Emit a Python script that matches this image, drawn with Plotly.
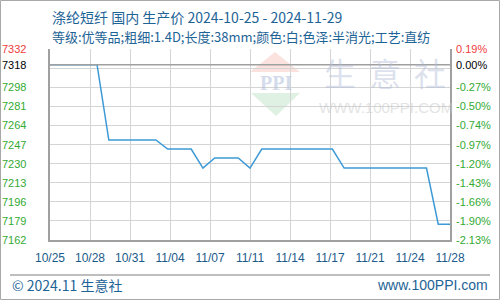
import pandas as pd
import plotly.graph_objects as go

# ---- data ----
dates = [d.strftime("%Y-%m-%d") for d in pd.date_range("2024-10-25", "2024-11-28", freq="D")]
prices = [7318, 7318, 7318, 7318, 7318,
          7251, 7251, 7251, 7251, 7251,
          7243, 7243, 7243,
          7226,
          7235, 7235, 7235,
          7226,
          7243, 7243, 7243, 7243, 7243, 7243, 7243,
          7226, 7226, 7226, 7226, 7226, 7226, 7226, 7226,
          7176, 7176]
base_value = 7318
x_tick_labels = ["10/25", "10/28", "10/31", "11/04", "11/07", "11/11",
                 "11/14", "11/17", "11/21", "11/24", "11/28"]
grid_values = [7162, 7179, 7196, 7213, 7230, 7247, 7264, 7281, 7298, 7315, 7332]
left_tick_values = [7332, 7318, 7298, 7281, 7264, 7247, 7230, 7213, 7196, 7179, 7162]
left_tick_labels = ["7332", "7318", "7298", "7281", "7264", "7247", "7230",
                    "7213", "7196", "7179", "7162"]
right_tick_labels = ["0.19%", "0.00%", "-0.27%", "-0.50%", "-0.74%", "-0.97%",
                     "-1.20%", "-1.43%", "-1.66%", "-1.90%", "-2.13%"]
title_line1 = "涤纶短纤 国内 生产价 2024-10-25 - 2024-11-29"
title_line2 = "等级:优等品;粗细:1.4D;长度:38mm;颜色:白;色泽:半消光;工艺:直纺"

# ---- layout geometry ----
W, H = 500, 300
L, R, T, B = 50, 50, 49, 60
PW, PH = W - L - R, H - T - B


def px(x):
    return (x - L) / PW


def py(y):
    return (H - B - y) / PH


t0 = pd.Timestamp(dates[0])
t1 = pd.Timestamp(dates[-1])
span = (t1 - t0) / (len(x_tick_labels) - 1)
x_tick_vals = [(t0 + span * i).strftime("%Y-%m-%d %H:%M:%S") for i in range(len(x_tick_labels))]

num_font = "Liberation Sans"
cjk_font = "Noto Sans CJK SC"
blue_text = "#1d6396"
grid_col = "#d4d4d4"

fig = go.Figure()
fig.add_trace(go.Scatter(x=dates, y=prices, mode="lines",
                         line=dict(color="#3d9ad6", width=1.5),
                         hoverinfo="skip", showlegend=False))

fig.update_layout(
    width=W, height=H,
    margin=dict(l=L, r=R, t=T, b=B),
    paper_bgcolor="white", plot_bgcolor="white",
    showlegend=False,
    xaxis=dict(type="date", range=[dates[0], dates[-1]],
               tickmode="array", tickvals=x_tick_vals, ticktext=x_tick_labels,
               tickfont=dict(family=num_font, size=12, color="#1a5a8a"),
               ticks="outside", ticklen=6, tickcolor="rgba(0,0,0,0)",
               showgrid=True, gridcolor=grid_col, gridwidth=1,
               showline=True, linecolor="#a0a0a0", linewidth=2, mirror=False,
               zeroline=False, layer="below traces"),
    yaxis=dict(range=[grid_values[0], grid_values[-1]],
               tickmode="array", tickvals=grid_values, showticklabels=False, ticks="",
               showgrid=True, gridcolor=grid_col, gridwidth=1,
               showline=True, linecolor="#a0a0a0", linewidth=2, mirror=True,
               zeroline=False, layer="below traces"),
)

shapes = []
# watermark logo
shapes.append(dict(type="path", xref="paper", yref="paper", layer="below",
                   path=f"M {px(250)} {py(72)} L {px(300)} {py(72)} L {px(275)} {py(52)} Z",
                   fillcolor="rgba(240,150,140,0.28)", line=dict(width=0)))
shapes.append(dict(type="path", xref="paper", yref="paper", layer="below",
                   path=f"M {px(251)} {py(93)} L {px(300)} {py(93)} L {px(276)} {py(116)} Z",
                   fillcolor="rgba(140,205,150,0.28)", line=dict(width=0)))
# base reference line
shapes.append(dict(type="line", xref="paper", yref="y", x0=0, x1=1,
                   y0=base_value, y1=base_value,
                   line=dict(color="#a0a0a0", width=1.5)))
# footer separator
shapes.append(dict(type="line", xref="paper", yref="paper",
                   x0=px(10), x1=px(490), y0=py(275), y1=py(275),
                   line=dict(color="#a8a8a8", width=1.5)))
# outer frame
shapes.append(dict(type="rect", xref="paper", yref="paper",
                   x0=px(0.5), x1=px(499.5), y0=py(0.5), y1=py(299.5),
                   line=dict(color="#a8a8a8", width=1)))
fig.update_layout(shapes=shapes)

ann = []
for v, lab in zip(left_tick_values, left_tick_labels):
    col = "#f03c3c" if v > base_value else ("#000000" if v == base_value else "#33aa33")
    ann.append(dict(xref="paper", yref="y", x=0, y=v, xshift=-22, xanchor="right",
                    yanchor="middle", text=lab, showarrow=False,
                    font=dict(family=num_font, size=11, color=col)))
for v, lab in zip(left_tick_values, right_tick_labels):
    col = "#f03c3c" if v > base_value else ("#000000" if v == base_value else "#33aa33")
    ann.append(dict(xref="paper", yref="y", x=1, y=v, xshift=4, xanchor="left",
                    yanchor="middle", text=lab, showarrow=False,
                    font=dict(family=num_font, size=11, color=col)))
# titles
ann.append(dict(xref="paper", yref="paper", x=px(50), y=py(17), xanchor="left",
                yanchor="middle", text=title_line1, showarrow=False,
                font=dict(family=cjk_font, size=14, color=blue_text)))
ann.append(dict(xref="paper", yref="paper", x=px(50), y=py(36), xanchor="left",
                yanchor="middle", text=title_line2, showarrow=False,
                font=dict(family=cjk_font, size=13, color=blue_text)))
# watermark text
ann.append(dict(xref="paper", yref="paper", x=px(276), y=py(83), xanchor="center",
                yanchor="middle", text="<b>PPI</b>", showarrow=False,
                font=dict(family="Liberation Serif", size=20, color="rgba(170,185,215,0.5)")))
for cx, ch in zip([340, 385, 430], ["生", "意", "社"]):
    ann.append(dict(xref="paper", yref="paper", x=px(cx), y=py(72), xanchor="center",
                    yanchor="middle", text=ch, showarrow=False,
                    font=dict(family=cjk_font, size=32, color="rgba(175,188,215,0.45)")))
ann.append(dict(xref="paper", yref="paper", x=px(386), y=py(107), xanchor="center",
                yanchor="middle", text="WWW.100PPI.COM", showarrow=False,
                font=dict(family=num_font, size=15, color="rgba(200,200,200,0.5)")))
# footer
ann.append(dict(xref="paper", yref="paper", x=px(10), y=py(285), xanchor="left",
                yanchor="middle", text="© 2024.11 生意社", showarrow=False,
                font=dict(family=cjk_font, size=14, color=blue_text)))
ann.append(dict(xref="paper", yref="paper", x=px(490), y=py(285), xanchor="right",
                yanchor="middle", text="www.100PPI.com", showarrow=False,
                font=dict(family=num_font, size=14, color=blue_text)))
fig.update_layout(annotations=ann)

fig.write_html("out.html")
